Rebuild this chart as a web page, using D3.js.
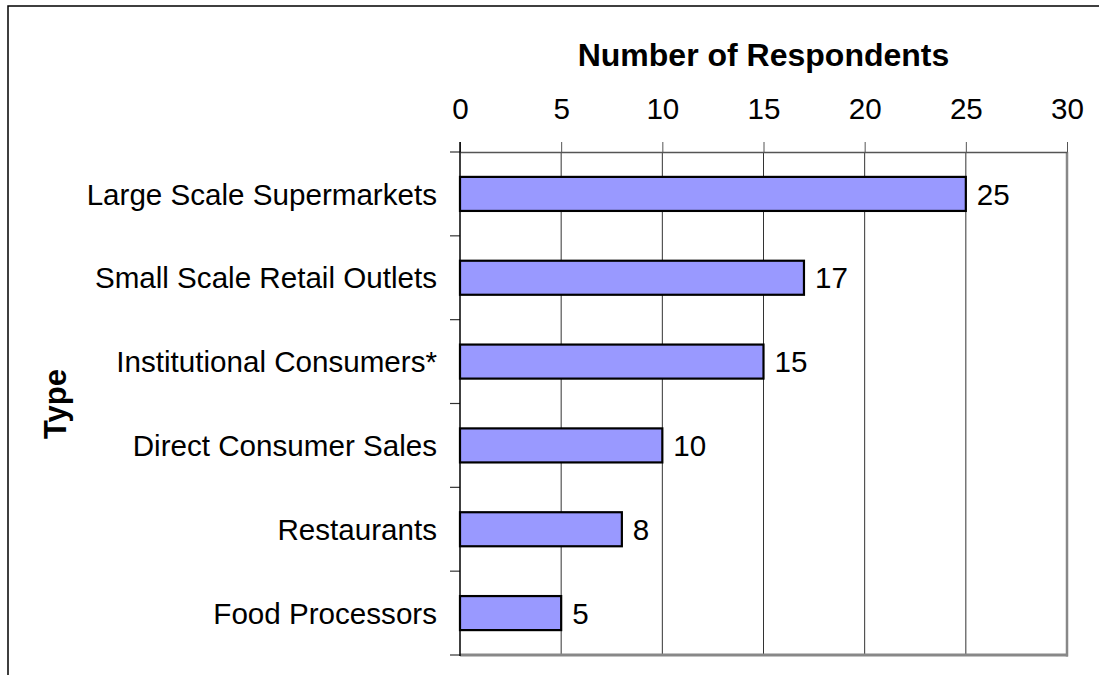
<!DOCTYPE html>
<html><head><meta charset="utf-8">
<script src="https://cdn.jsdelivr.net/npm/d3@7"></script>
<style>body{margin:0;background:#fff;overflow:hidden;} svg{display:block;} text{font-family:"Liberation Sans",Arial,sans-serif;fill:#000;}</style>
</head><body>
<svg id="chart" width="1099" height="675"></svg>
<script>
const categories = ["Large Scale Supermarkets","Small Scale Retail Outlets","Institutional Consumers*","Direct Consumer Sales","Restaurants","Food Processors"];
const values = [25,17,15,10,8,5];
const xTicks = [0,5,10,15,20,25,30];
const xTitle = "Number of Respondents";
const yTitle = "Type";

const svg = d3.select("#chart");
const L=460, R=1067, T=152, B=655;

svg.append("rect").attr("x",8).attr("y",6).attr("width",1200).attr("height",800)
  .attr("fill","none").attr("stroke","#000").attr("stroke-width",1.5);

const x = d3.scaleLinear().domain([0,30]).range([L,R]);
const y = d3.scaleBand().domain(categories).range([T,B]).paddingInner(0.594).paddingOuter(0.297);

// gridlines
svg.append("g").selectAll("line").data(xTicks.filter(d=>d>0 && d<30)).join("line")
  .attr("x1",d=>x(d)).attr("x2",d=>x(d)).attr("y1",T).attr("y2",B)
  .attr("stroke","#333").attr("stroke-width",1);

// plot border right & bottom (gray)
svg.append("line").attr("x1",R).attr("x2",R).attr("y1",T).attr("y2",B+1.5).attr("stroke","#888").attr("stroke-width",2.5);
svg.append("line").attr("x1",L).attr("x2",R+1).attr("y1",B).attr("y2",B).attr("stroke","#888").attr("stroke-width",3);

// top axis
const ax = svg.append("g").attr("transform",`translate(0,${T})`)
  .call(d3.axisTop(x).tickValues(xTicks).tickSize(10).tickSizeOuter(0).tickPadding(23));
ax.select(".domain").attr("stroke","#555").attr("stroke-width",1.5);
ax.selectAll(".tick line").attr("stroke","#555");
ax.selectAll(".tick text").style("font-size","29.6px").attr("fill","#000").style("font-family",'"Liberation Sans",Arial,sans-serif');

// left axis ticks at category boundaries
const step = y.step();
const bounds = d3.range(categories.length+1).map(i=>T+i*step);
svg.append("g").selectAll("line").data(bounds).join("line")
  .attr("x1",L-10).attr("x2",L).attr("y1",d=>d).attr("y2",d=>d)
  .attr("stroke","#333").attr("stroke-width",1.2);

// bars
svg.append("g").selectAll("rect").data(values).join("rect")
  .attr("x",x(0)).attr("y",(d,i)=>y(categories[i]))
  .attr("width",d=>x(d)-x(0)).attr("height",y.bandwidth())
  .attr("fill","#9999ff").attr("stroke","#000").attr("stroke-width",2.2);

svg.append("line").attr("x1",L).attr("x2",L).attr("y1",T-10).attr("y2",B+1).attr("stroke","#000").attr("stroke-width",1.5);

// value labels
svg.append("g").selectAll("text").data(values).join("text")
  .attr("x",d=>x(d)+11).attr("y",(d,i)=>y(categories[i])+y.bandwidth()/2)
  .attr("dy","0.36em").style("font-size","29.6px").text(d=>d);

// category labels
svg.append("g").selectAll("text").data(categories).join("text")
  .attr("x",437).attr("y",d=>y(d)+y.bandwidth()/2)
  .attr("dy","0.36em").attr("text-anchor","end").style("font-size","29.6px").text(d=>d);

// titles
svg.append("text").attr("x",(L+R)/2).attr("y",66).attr("text-anchor","middle")
  .style("font-size","32px").style("font-weight","bold").text(xTitle);
svg.append("text").attr("transform","translate(66,404) rotate(-90)").attr("text-anchor","middle")
  .style("font-size","31px").style("font-weight","bold").text(yTitle);
</script>
</body></html>
